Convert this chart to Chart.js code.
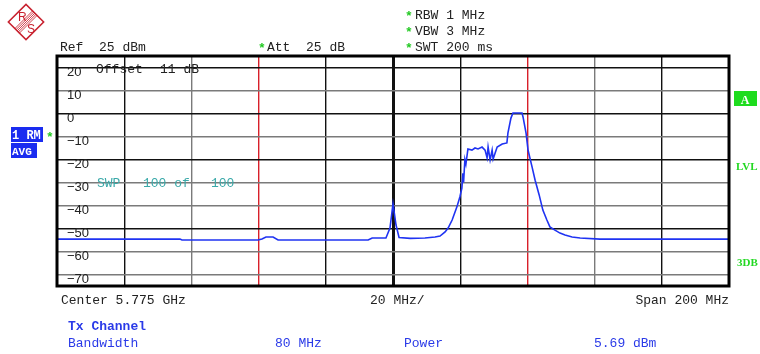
<!DOCTYPE html>
<html lang="en">
<head>
<meta charset="UTF-8" />
<title>Spectrum - Tx Channel</title>
<script src="https://cdn.jsdelivr.net/npm/chart.js"></script>
<style>
  body { margin: 0; background: #fff; }
  canvas { display: block; }
</style>
</head>
<body>
<canvas id="spec" width="760" height="354"></canvas>
<script>
const freqMHz = [
  5675.0, 5711.6, 5712.2, 5734.8, 5736.0, 5737.2, 5739.3, 5740.8,
  5767.6, 5768.8, 5772.9, 5774.1, 5775.0, 5775.9, 5776.8, 5780.1,
  5784.5, 5787.5, 5789.0, 5790.5, 5791.4, 5792.6, 5794.0, 5794.9,
  5795.5, 5795.8, 5796.0, 5796.4, 5796.7, 5797.3, 5798.5, 5799.4,
  5800.3, 5801.5, 5802.4, 5803.0, 5803.3, 5803.9, 5804.5, 5804.8,
  5805.4, 5806.0, 5807.5, 5808.9, 5809.2, 5810.1, 5810.7, 5813.4,
  5813.7, 5814.6, 5815.2, 5816.4, 5817.3, 5818.5, 5819.6, 5820.8,
  5821.7, 5823.2, 5824.7, 5826.2, 5828.3, 5830.7, 5836.6, 5875.0
];
const levelDbm = [
  -54.6, -54.6, -55.0, -55.0, -54.6, -53.7, -53.7, -55.0,
  -55.0, -54.1, -54.1, -49.8, -39.3, -48.5, -53.9, -54.3,
  -54.1, -53.7, -53.3, -51.5, -49.8, -46.3, -40.7, -36.3,
  -32.4, -26.0, -30.0, -20.0, -22.0, -15.4, -15.9, -15.0,
  -15.4, -14.6, -15.9, -19.3, -14.6, -20.2, -15.9, -19.8,
  -17.2, -14.6, -13.3, -12.8, -8.5, -2.0, 0.2, 0.2,
  -1.5, -8.5, -16.0, -23.3, -29.0, -35.4, -42.0, -46.3,
  -49.3, -50.7, -52.0, -52.8, -53.7, -54.1, -54.6, -54.6
];

// level labels shown on the grid
const yTickValues = [20, 10, 0, -10, -20, -30, -40, -50, -60, -70];

const startMHz = 5675, stopMHz = 5875, divMHz = 20;
const refLevel = 25, bottomLevel = -75;
const channelEdges = [5735, 5815];

const BLACK = '#111', GRAY = '#7a7a7a', RED = '#d8202a';
const xGrid = { 5695: BLACK, 5715: GRAY, 5755: BLACK, 5775: BLACK, 5795: BLACK, 5835: GRAY, 5855: BLACK };
const yGrid = { 20: BLACK, 10: GRAY, 0: BLACK, '-10': GRAY, '-20': BLACK, '-30': GRAY, '-40': GRAY, '-50': BLACK, '-60': GRAY, '-70': GRAY };

const mono = '13px "Liberation Mono", monospace';

function txt(ctx, s, x, y, color, font, align) {
  ctx.font = font || mono;
  ctx.fillStyle = color || '#222';
  ctx.textAlign = align || 'left';
  ctx.textBaseline = 'alphabetic';
  ctx.fillText(s, x, y);
}

function star(ctx, x, y) {
  txt(ctx, '*', x, y, '#22c922', 'bold 13px "Liberation Mono", monospace');
}

function drawLogo(ctx) {
  ctx.save();
  ctx.translate(26, 22);
  ctx.rotate(Math.PI / 4);
  ctx.strokeStyle = '#c8202e';
  ctx.lineWidth = 1.5;
  ctx.strokeRect(-12.5, -12.5, 25, 25);
  // hatched band
  ctx.lineWidth = 0.8;
  for (let i = -2; i <= 2; i++) {
    ctx.beginPath();
    ctx.moveTo(i * 1.6, -12.5);
    ctx.lineTo(i * 1.6, 12.5);
    ctx.stroke();
  }
  ctx.restore();
  txt(ctx, 'R', 18, 21, '#c8202e', '12px "Liberation Sans", sans-serif');
  txt(ctx, 'S', 27, 33, '#c8202e', '12px "Liberation Sans", sans-serif');
}

const decor = {
  id: 'decor',
  afterDraw(chart) {
    const ctx = chart.ctx;
    const a = chart.chartArea;
    ctx.save();
    // frame
    ctx.strokeStyle = '#000';
    ctx.lineWidth = 3;
    ctx.strokeRect(a.left, a.top, a.right - a.left, a.bottom - a.top);

    drawLogo(ctx);

    // header
    txt(ctx, 'Ref  25 dBm', 60, 51);
    star(ctx, 258, 52);
    txt(ctx, 'Att  25 dB', 267, 51);
    star(ctx, 405, 20); txt(ctx, 'RBW 1 MHz', 415, 19);
    star(ctx, 405, 36); txt(ctx, 'VBW 3 MHz', 415, 35);
    star(ctx, 405, 52); txt(ctx, 'SWT 200 ms', 415, 51);

    // inside the grid
    txt(ctx, 'Offset', 96, 73);
    txt(ctx, '11 dB', 160, 73);
    txt(ctx, 'SWP', 97, 187, '#3aa9a9');
    txt(ctx, '100 of', 143, 187, '#3aa9a9');
    txt(ctx, '100', 211, 187, '#3aa9a9');

    // left trace label
    ctx.fillStyle = '#1a2cf0';
    ctx.fillRect(11, 127, 32, 15);
    ctx.fillRect(11, 143, 26, 15);
    ctx.save();
    ctx.beginPath(); ctx.rect(11, 127, 32, 15); ctx.clip();
    txt(ctx, '1 RM', 12, 139, '#fff', 'bold 12px "Liberation Mono", monospace');
    ctx.restore();
    txt(ctx, 'AVG', 12, 155, '#fff', 'bold 11px "Liberation Mono", monospace');
    star(ctx, 46, 141);

    // right side
    ctx.fillStyle = '#1edc1e';
    ctx.fillRect(734, 91, 23, 15);
    txt(ctx, 'A', 745, 104, '#fff', 'bold 12px "Liberation Serif", serif', 'center');
    txt(ctx, 'LVL', 736, 170, '#22d822', 'bold 11px "Liberation Serif", serif');
    txt(ctx, '3DB', 737, 266, '#22d822', 'bold 11px "Liberation Serif", serif');

    // footer
    txt(ctx, 'Center 5.775 GHz', 61, 304);
    txt(ctx, '20 MHz/', 370, 304);
    txt(ctx, 'Span 200 MHz', 729, 304, '#222', mono, 'right');
    const blue = '#2a3ae8';
    txt(ctx, 'Tx Channel', 68, 330, blue, 'bold 13px "Liberation Mono", monospace');
    txt(ctx, 'Bandwidth', 68, 347, blue);
    txt(ctx, '80 MHz', 275, 347, blue);
    txt(ctx, 'Power', 404, 347, blue);
    txt(ctx, '5.69 dBm', 594, 347, blue);
    ctx.restore();
  }
};

new Chart(document.getElementById('spec'), {
  type: 'line',
  data: {
    datasets: [{
      data: freqMHz.map((f, i) => ({ x: f, y: levelDbm[i] })),
      borderColor: '#1f33f2',
      borderWidth: 1.6,
      pointRadius: 0,
      tension: 0,
      fill: false
    }]
  },
  options: {
    responsive: false,
    animation: false,
    events: [],
    layout: { padding: { left: 37, top: 56, right: 31, bottom: 68 } },
    plugins: { legend: { display: false }, tooltip: { enabled: false } },
    scales: {
      x: {
        type: 'linear',
        min: startMHz,
        max: stopMHz,
        border: { display: false },
        grid: {
          drawTicks: false,
          color: c => channelEdges.includes(c.tick.value) ? RED : (xGrid[c.tick.value] || 'rgba(0,0,0,0)'),
          lineWidth: c => c.tick.value === 5775 ? 3 : 1.4
        },
        ticks: { stepSize: divMHz, display: false }
      },
      y: {
        min: bottomLevel,
        max: refLevel,
        border: { display: false },
        afterBuildTicks: s => { s.ticks = yTickValues.map(v => ({ value: v })); },
        grid: {
          drawTicks: false,
          color: c => yGrid[c.tick.value] || 'rgba(0,0,0,0)',
          lineWidth: 1.4
        },
        ticks: {
          mirror: true,
          padding: 10,
          labelOffset: 5,
          color: '#222',
          font: { family: '"Liberation Sans", sans-serif', size: 13 },
          callback: v => String(v).replace('-', '\u2212')
        }
      }
    }
  },
  plugins: [decor]
});
</script>
</body>
</html>
